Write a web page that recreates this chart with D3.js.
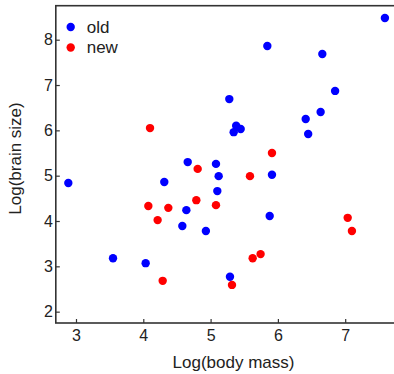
<!DOCTYPE html>
<html>
<head>
<meta charset="utf-8">
<script src="https://cdn.jsdelivr.net/npm/d3@7"></script>
<style>
  body { margin: 0; background: white; }
  svg { display: block; }
</style>
</head>
<body>
<div id="chart"></div>
<script>
// values
const oldMass  = [2.886, 4.312, 4.66, 7.59, 5.843, 6.66, 6.85, 5.278, 6.635, 6.413, 6.45, 5.38, 5.447, 5.343, 5.08, 5.12, 5.912, 5.10, 4.64, 4.58, 5.878, 4.93, 4.035, 5.288, 3.55];
const oldBrain = [4.84, 4.86, 5.30, 8.48, 7.86, 7.685, 6.87, 6.69, 6.405, 6.25, 5.92, 6.10, 6.03, 5.96, 5.26, 4.99, 5.02, 4.66, 4.24, 3.89, 4.11, 3.78, 3.07, 2.77, 3.18];
const newMass  = [5.912, 4.808, 5.585, 4.10, 4.075, 4.372, 4.788, 5.08, 4.213, 4.288, 5.625, 5.743, 5.318, 7.037, 7.10];
const newBrain = [5.50, 5.15, 4.99, 6.05, 4.33, 4.29, 4.46, 4.35, 4.02, 2.68, 3.18, 3.27, 2.59, 4.07, 3.78];
const xTicks = [3, 4, 5, 6, 7];
const yTicks = [2, 3, 4, 5, 6, 7, 8];
const seriesNames = ["old", "new"];
const colors = ["#0000ff", "#ff0000"];

const width = 394, height = 374;
const font = "'Liberation Sans', Arial, sans-serif";

const svg = d3.select('#chart')
              .append('svg')
              .attr('width', width)
              .attr('height', height)
              .style('background', 'white');

const x = d3.scaleLinear().domain([2.7, 8.0]).range([55.8, 412.5]);
const y = d3.scaleLinear().domain([1.75, 8.75]).range([323, 5.7]);

// frame (right side falls off the picture)
svg.append("rect")
   .attr("x", x(2.7))
   .attr("y", y(8.75))
   .attr("width", x(8.0) - x(2.7))
   .attr("height", y(1.75) - y(8.75))
   .attr("fill", "none")
   .attr("stroke", "#333")
   .attr("stroke-width", 1.6);

const xAxis = svg.append("g")
   .attr("transform", `translate(0,${y(1.75)})`)
   .call(d3.axisBottom(x).tickValues(xTicks).tickFormat(d3.format("d")).tickSizeInner(-4).tickSizeOuter(0).tickPadding(7));
const yAxis = svg.append("g")
   .attr("transform", `translate(${x(2.7)},0)`)
   .call(d3.axisLeft(y).tickValues(yTicks).tickFormat(d3.format("d")).tickSizeInner(-4).tickSizeOuter(0).tickPadding(3));

[xAxis, yAxis].forEach(g => {
    g.select(".domain").remove();
    g.selectAll(".tick line").attr("stroke", "#333").attr("stroke-width", 1.2);
    g.selectAll("text")
     .style("font-family", font)
     .style("font-size", "16px")
     .attr("fill", "#222");
});

svg.append("text")
   .attr("x", 233.5)
   .attr("y", 368)
   .attr("text-anchor", "middle")
   .style("font-family", font)
   .style("font-size", "17px")
   .attr("fill", "#222")
   .text("Log(body mass)");

svg.append("text")
   .attr("transform", "translate(21,158.5) rotate(-90)")
   .attr("text-anchor", "middle")
   .style("font-family", font)
   .style("font-size", "17px")
   .attr("fill", "#222")
   .text("Log(brain size)");

const series = [
    oldMass.map((m, i) => ({m, b: oldBrain[i]})),
    newMass.map((m, i) => ({m, b: newBrain[i]}))
];

series.forEach((pts, k) => {
    svg.append("g")
       .selectAll("circle")
       .data(pts)
       .enter()
       .append("circle")
       .attr("cx", d => x(d.m))
       .attr("cy", d => y(d.b))
       .attr("r", 4.2)
       .attr("fill", colors[k]);
});

// legend
const legend = svg.append("g").attr("transform", "translate(70.7,27)");
seriesNames.forEach((name, i) => {
    legend.append("circle")
          .attr("cx", 0)
          .attr("cy", i * 20.5)
          .attr("r", 4.2)
          .attr("fill", colors[i]);
    legend.append("text")
          .attr("x", 16)
          .attr("y", i * 20.5)
          .attr("dy", "0.35em")
          .style("font-family", font)
          .style("font-size", "17px")
          .attr("fill", "#222")
          .text(name);
});
</script>
</body>
</html>
